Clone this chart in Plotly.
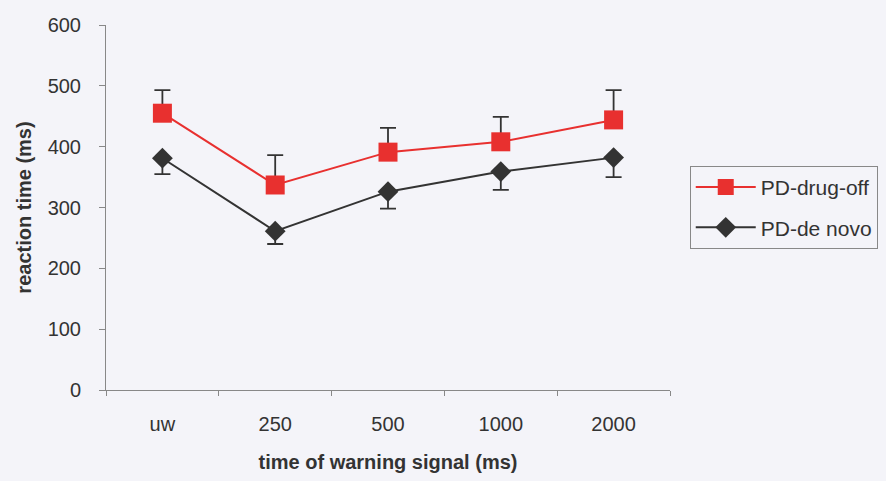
import plotly.graph_objects as go

categories = ["uw", "250", "500", "1000", "2000"]
drug_off = [455, 337, 391, 408, 444]
drug_off_err = [38, 49, 40, 41, 49]
de_novo = [381, 261, 326, 359, 382]
de_novo_err = [26, 21, 28, 30, 32]

BG = "#f4f4f9"
FONT = "Liberation Sans, Arial, sans-serif"

fig = go.Figure()
fig.add_trace(go.Scatter(
    x=categories, y=drug_off, name="PD-drug-off", mode="lines+markers",
    legendgroup="a",
    line=dict(color="#e8302f", width=2),
    marker=dict(symbol="square", size=19, color="#e8302f"),
    error_y=dict(type="data", symmetric=False, array=drug_off_err,
                 arrayminus=[0] * len(drug_off_err),
                 color="#333333", thickness=1.8, width=8),
))
fig.add_trace(go.Scatter(
    x=categories, y=de_novo, name="PD-de novo", mode="lines+markers",
    legendgroup="b",
    line=dict(color="#333333", width=2),
    marker=dict(symbol="diamond", size=16, color="#333333"),
    error_y=dict(type="data", symmetric=False, array=[0] * len(de_novo_err),
                 arrayminus=de_novo_err,
                 color="#333333", thickness=1.8, width=8),
))

fig.update_layout(
    width=886, height=481,
    margin=dict(l=106, r=216, t=25, b=91, autoexpand=False),
    paper_bgcolor=BG, plot_bgcolor=BG,
    font=dict(family=FONT, size=20, color="#333333"),
    showlegend=True,
    legend=dict(
        x=1.035, y=0.614, xanchor="left", yanchor="top",
        bordercolor="#888888", borderwidth=1, bgcolor=BG,
        font=dict(size=21, color="#333333"),
        traceorder="grouped", tracegroupgap=10,
        itemwidth=60,
    ),
    xaxis=dict(
        type="category", range=[-0.5, 4.5],
        showline=True, linecolor="#888888", linewidth=1,
        ticks="outside", ticklen=5, tickcolor="#888888", tickson="boundaries",
        showgrid=False, zeroline=False,
        ticklabelstandoff=16,
        title=dict(text="<b>time of warning signal (ms)</b>",
                   font=dict(size=20, color="#333333"), standoff=20),
    ),
    yaxis=dict(
        range=[0, 600], dtick=100,
        showline=True, linecolor="#888888", linewidth=1,
        ticks="outside", ticklen=6, tickcolor="#888888",
        showgrid=False, zeroline=False,
        ticklabelstandoff=14,
        title=dict(text="<b>reaction time (ms)</b>",
                   font=dict(size=20, color="#333333"), standoff=10),
    ),
)

fig.write_html("out.html")
